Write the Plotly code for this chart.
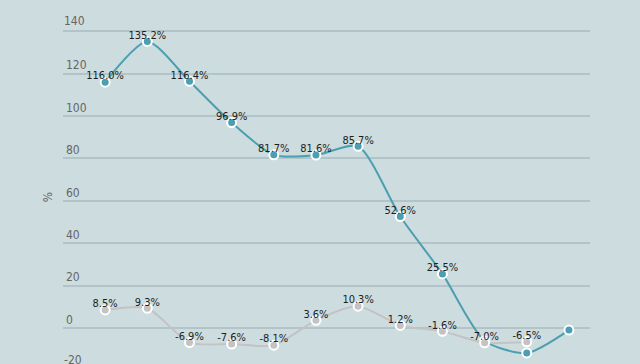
import plotly.graph_objects as go

# Data
x_idx = list(range(12))
teal_values = [116.0, 135.2, 116.4, 96.9, 81.7, 81.6, 85.7, 52.6, 25.5, -6.0, -11.8, -1.0]
teal_labels = ["116.0%", "135.2%", "116.4%", "96.9%", "81.7%", "81.6%", "85.7%",
               "52.6%", "25.5%", "", "", ""]
gray_values = [8.5, 9.3, -6.9, -7.6, -8.1, 3.6, 10.3, 1.2, -1.6, -7.0, -6.5]
gray_labels = ["8.5%", "9.3%", "-6.9%", "-7.6%", "-8.1%", "3.6%", "10.3%",
               "1.2%", "-1.6%", "-7.0%", "-6.5%"]
y_ticks = [-20, 0, 20, 40, 60, 80, 100, 120, 140]

TEAL = "#4b9fb0"
GRAY = "#c3c3c3"
BG = "#cddcdf"
FONT = "DejaVu Sans Condensed, DejaVu Sans"
Y_RANGE = [-17, 140.6]

fig = go.Figure()

fig.add_trace(go.Scatter(
    x=x_idx, y=teal_values, mode="lines+markers",
    line=dict(color=TEAL, width=2, shape="spline", smoothing=0.7),
    marker=dict(size=9, color=TEAL, line=dict(color="white", width=2)),
    cliponaxis=False, showlegend=False, hoverinfo="skip"))

fig.add_trace(go.Scatter(
    x=x_idx[:len(gray_values)], y=gray_values, mode="lines+markers",
    line=dict(color=GRAY, width=2, shape="spline", smoothing=0.7),
    marker=dict(size=9, color=GRAY, line=dict(color="white", width=2)),
    cliponaxis=False, showlegend=False, hoverinfo="skip"))

# label traces
fig.add_trace(go.Scatter(
    x=x_idx, y=teal_values, mode="text", text=teal_labels,
    textposition="top center", marker=dict(size=0),
    textfont=dict(family=FONT, size=11, color="#1e1e1e"),
    cliponaxis=False, showlegend=False, hoverinfo="skip"))
fig.add_trace(go.Scatter(
    x=x_idx[:len(gray_values)], y=gray_values, mode="text", text=gray_labels,
    textposition="top center", marker=dict(size=0),
    textfont=dict(family=FONT, size=11, color="#1e1e1e"),
    cliponaxis=False, showlegend=False, hoverinfo="skip"))

# edge tick labels (would be hidden by plotly at the range edges)
span = Y_RANGE[1] - Y_RANGE[0]
for tv in (y_ticks[0], y_ticks[-1]):
    fig.add_annotation(x=0, xref="paper", xanchor="left",
                       y=(tv - Y_RANGE[0]) / span, yref="paper", yanchor="bottom",
                       yshift=1, xshift=-1, text=str(tv), showarrow=False,
                       font=dict(family=FONT, size=12, color="#666666"))

fig.update_layout(
    width=640, height=364,
    margin=dict(l=63, r=50, t=30, b=0),
    paper_bgcolor=BG, plot_bgcolor=BG,
    font=dict(family=FONT, color="#666666", size=12),
    xaxis=dict(range=[-1, 11.5], showgrid=False, zeroline=False, showticklabels=False,
               showline=False, ticks=""),
    yaxis=dict(range=Y_RANGE, tickvals=y_ticks, ticklabelposition="inside top",
               showgrid=True, gridcolor="#b2c4c8", gridwidth=1.5,
               zeroline=True, zerolinecolor="#b2c4c8", zerolinewidth=1.5,
               tickfont=dict(family=FONT, size=12, color="#666666"),
               title=dict(text="%", font=dict(family=FONT, size=12, color="#666666"), standoff=10),
               showline=False, ticks=""),
)

post = """
document.body.style.margin = '0';
document.body.style.overflow = 'hidden';
var st = document.createElement('style');
st.textContent = 'svg text { font-stretch: condensed !important; }';
document.head.appendChild(st);
"""
fig.write_html("out.html", post_script=post, config={"displayModeBar": False})
